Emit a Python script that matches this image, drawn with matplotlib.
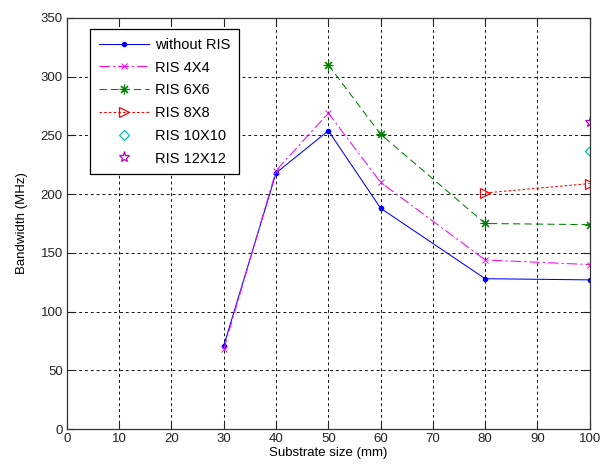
import matplotlib
matplotlib.use("Agg")
import matplotlib.pyplot as plt

plt.rcParams["font.family"] = ["Liberation Sans", "DejaVu Sans"]

# données
x_no_ris = [30, 40, 50, 60, 80, 100]
bw_no_ris = [71, 218, 254, 188, 128, 127]

x_4x4 = [30, 40, 50, 60, 80, 100]
bw_4x4 = [68, 220, 269, 210, 144, 140]

x_6x6 = [50, 60, 80, 100]
bw_6x6 = [310, 251, 175, 174]

x_8x8 = [80, 100]
bw_8x8 = [201, 209]

x_10x10 = [100]
bw_10x10 = [237]

x_12x12 = [100]
bw_12x12 = [261]

fig = plt.figure(figsize=(6.03, 4.72), dpi=100, facecolor="white")
ax = fig.add_axes([0.111, 0.091, 0.867, 0.871])

LW = 0.75
ax.plot(x_no_ris, bw_no_ris, "-", color="blue", marker=".", markersize=6,
        linewidth=LW, label="without RIS")
ax.plot(x_4x4, bw_4x4, "-.", color="magenta", marker="x", markersize=4.5,
        markeredgewidth=0.7, linewidth=LW, label="RIS 4X4", dashes=(10, 3, 2, 3))
ax.plot(x_6x6, bw_6x6, "--", color="green", marker=(8, 2, 0), markersize=7,
        markeredgewidth=0.8, linewidth=LW, label="RIS 6X6", dashes=(7, 4))
ax.plot(x_8x8, bw_8x8, ":", color="red", marker=">", markersize=7,
        markerfacecolor="none", markeredgewidth=0.9, linewidth=LW,
        label="RIS 8X8", dashes=(2.5, 2))
ax.plot(x_10x10, bw_10x10, linestyle="none", color="c", marker="D", markersize=5,
        markerfacecolor="none", markeredgewidth=0.9, label="RIS 10X10")
ax.plot(x_12x12, bw_12x12, linestyle="none", color="m", marker="*", markersize=8,
        markerfacecolor="none", markeredgewidth=0.9, label="RIS 12X12")

ax.set_xlim(0, 100)
ax.set_ylim(0, 350)
ax.set_xticks(range(0, 101, 10))
ax.set_yticks(range(0, 351, 50))
ax.grid(True, color="#111111", linestyle=(0, (3, 3)), linewidth=0.7)
ax.tick_params(direction="in", top=True, right=True, labelsize=9.5,
               length=5, width=0.8, pad=3, colors="#222222")
for s in ax.spines.values():
    s.set_linewidth(0.9)
    s.set_color("#333333")

ax.set_xlabel("Substrate size (mm)", fontsize=9.5, labelpad=1)
ax.set_ylabel("Bandwidth (MHz)", fontsize=9.5, labelpad=9)

leg = ax.legend(loc="upper left", bbox_to_anchor=(0.045, 0.973), fontsize=10.5,
                fancybox=False, framealpha=1, edgecolor="black",
                handlelength=3.4, borderpad=0.6, labelspacing=0.6,
                handletextpad=0.4, borderaxespad=0)
leg.get_frame().set_linewidth(0.9)

fig.savefig("out.png", dpi=100)
